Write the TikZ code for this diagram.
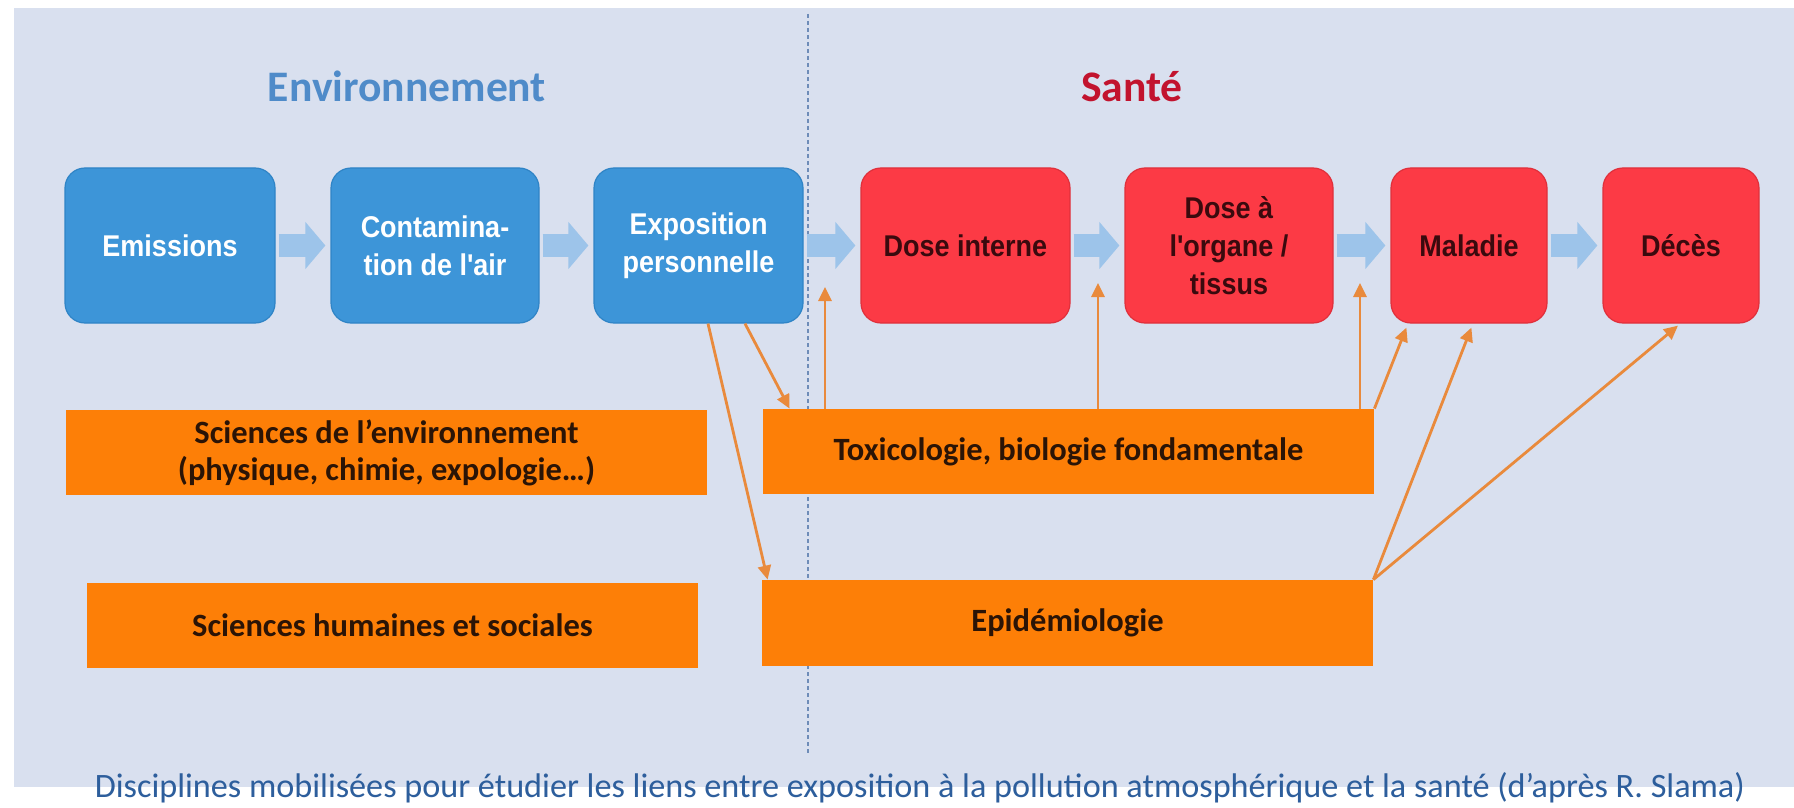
\documentclass[tikz,border=0pt]{standalone}
\usepackage{fontspec}
\setmainfont{Liberation Sans}
\newfontfamily\calib{Carlito}
\newfontfamily\stagefont{Liberation Sans}[FakeStretch=0.9]
\usetikzlibrary{arrows.meta}
\definecolor{panel}{HTML}{D9E0EF}
\definecolor{bluebox}{HTML}{3D95D8}
\definecolor{blueedge}{HTML}{2F84C6}
\definecolor{redbox}{HTML}{FC3A45}
\definecolor{rededge}{HTML}{E0303B}
\definecolor{flowblue}{HTML}{9DC4EA}
\definecolor{orangebox}{HTML}{FD7F07}
\definecolor{orangeline}{HTML}{E98A3C}
\definecolor{envblue}{HTML}{4F8BC9}
\definecolor{santered}{HTML}{C2132E}
\definecolor{captionblue}{HTML}{2D5E9C}
\definecolor{dividerc}{HTML}{6E8CB8}
\definecolor{redtext}{HTML}{3A0A0E}
\definecolor{orangetext}{HTML}{2B1406}
\begin{document}
\begin{tikzpicture}[x=0.5pt,y=-0.5pt,
  stage/.style={rounded corners=10pt, minimum height=77.5pt, inner sep=0pt,
    align=center, font=\stagefont\bfseries\fontsize{15}{19}\selectfont, line width=0.6pt},
  envstage/.style={stage, fill=bluebox, draw=blueedge, text=white},
  healthstage/.style={stage, fill=redbox, draw=rededge, text=redtext},
  discipline/.style={fill=orangebox, minimum height=42.5pt, inner sep=0pt,
    align=center, text=orangetext, font=\calib\bfseries\fontsize{16.25}{18.5}\selectfont},
  flow/.style={draw=flowblue, line width=11.5pt, -{Triangle[length=10pt,width=23pt]}, color=flowblue},
  conn/.style={draw=orangeline, line width=1.4pt, -{Triangle[length=7pt,width=6.5pt]}},
  divider/.style={draw=dividerc, line width=0.8pt, dash pattern=on 2pt off 1.5pt},
  heading/.style={anchor=base, font=\calib\bfseries\fontsize{21.8}{24}\selectfont, inner sep=0pt}
]
\useasboundingbox (0,0) rectangle (1794,808);
\fill[white] (0,0) rectangle (1794,808);
\fill[panel] (14,8) rectangle (1794,787);

% divider
\coordinate (dtop) at (808,14);
\coordinate (dbot) at (808,755);
\draw[divider] (dtop) -- (dbot);

% headings
\node[heading, text=envblue] (henv) at (407,102) {Environnement};
\node[heading, text=santered] (hsan) at (1132,102) {Santé};

% top chain
\node[envstage, minimum width=105pt] (em) at (170,245.5) {Emissions};
\node[envstage, minimum width=104pt] (ct) at (435,245.5) {Contamina-\\tion de l'air};
\node[envstage, minimum width=104.5pt] (ex) at (698.5,245.5) {Exposition\\personnelle};
\node[healthstage, minimum width=104.5pt] (di) at (965.5,245.5) {Dose interne};
\node[healthstage, minimum width=104pt] (do) at (1229,245.5) {Dose à\\l'organe /\\tissus};
\node[healthstage, minimum width=78pt] (ma) at (1469,245.5) {Maladie};
\node[healthstage, minimum width=78pt] (de) at (1681,245.5) {Décès};

\draw[flow] ([xshift=1.5pt]em.east) -- ([xshift=-2.5pt]ct.west);
\draw[flow] ([xshift=1.5pt]ct.east) -- ([xshift=-2.5pt]ex.west);
\draw[flow] ([xshift=1.5pt]ex.east) -- ([xshift=-2.5pt]di.west);
\draw[flow] ([xshift=1.5pt]di.east) -- ([xshift=-2.5pt]do.west);
\draw[flow] ([xshift=1.5pt]do.east) -- ([xshift=-2.5pt]ma.west);
\draw[flow] ([xshift=1.5pt]ma.east) -- ([xshift=-2.5pt]de.west);

% disciplines
\node[discipline, minimum width=320.5pt] (se) at (386.5,452.5) {Sciences de l’environnement\\(physique, chimie, expologie…)};
\node[discipline, minimum width=305.5pt] (tx) at (1068.5,451.5) {Toxicologie, biologie fondamentale};
\node[discipline, minimum width=305.5pt] (sh) at (392.5,625.5) {Sciences humaines et sociales};
\node[discipline, minimum width=305.5pt, minimum height=43pt] (ep) at (1067.5,623) {Epidémiologie};

% orange connectors
\coordinate (t1) at (825,287);
\coordinate (t2) at (1098,283);
\coordinate (t3) at (1360,283);
\draw[conn] ([xshift=4.75pt]ex.south) -- ([xshift=3pt]ep.north west);
\draw[conn] ([xshift=23.25pt]ex.south) -- ([xshift=13.5pt]tx.north west);
\draw[conn] (t1 |- tx.north) -- (t1);
\draw[conn] (t2 |- tx.north) -- (t2);
\draw[conn] (t3 |- tx.north) -- (t3);
\draw[conn] (tx.north east) -- ([xshift=8pt,yshift=-2pt]ma.south west);
\draw[conn] (ep.north east) -- ([xshift=40.5pt,yshift=-2pt]ma.south west);
\draw[conn] (ep.north east) -- ([xshift=-1.5pt,yshift=-1pt]de.south);

% caption
\node[anchor=base, inner sep=0pt, text=captionblue, font=\calib\fontsize{17.1}{20}\selectfont] (cap) at (920,797)
  {Disciplines mobilisées pour étudier les liens entre exposition à la pollution atmosphérique et la santé (d’après R. Slama)};
\end{tikzpicture}
\end{document}
